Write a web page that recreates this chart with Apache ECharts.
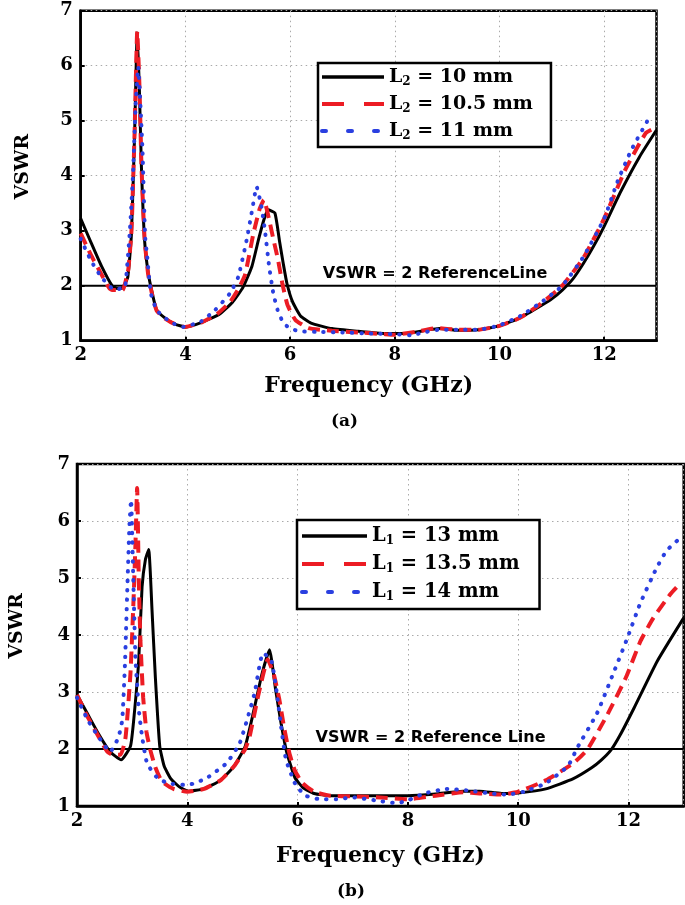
<!DOCTYPE html>
<html>
<head>
<meta charset="utf-8">
<script src="https://cdn.jsdelivr.net/npm/echarts@6/dist/echarts.min.js"></script>
<style>html,body{margin:0;padding:0;background:#fff;}#c{width:685px;height:905px;}</style>
</head>
<body>
<div id="c"></div>
<script>
// ---------- (a) L2 variation ----------
const freqA10 = [2, 2.2, 2.4, 2.6, 2.7, 2.8, 2.9, 2.97, 3.03, 3.08, 3.12, 3.16, 3.22, 3.29, 3.37, 3.45, 3.6, 3.8, 4.0, 4.3, 4.65, 4.9, 5.1, 5.27, 5.4, 5.5, 5.58, 5.71, 5.8, 5.87, 5.94, 6.05, 6.2, 6.4, 6.8, 7.3, 7.8, 8.2, 8.6, 8.85, 9.2, 9.6, 10.0, 10.4, 10.8, 11.0, 11.2, 11.4, 11.6, 11.8, 12.0, 12.3, 12.68, 13.0];
const vswrA10 = [3.22, 2.78, 2.35, 2.0, 1.95, 1.96, 2.16, 2.95, 4.77, 6.6, 5.6, 4.16, 2.83, 2.23, 1.85, 1.56, 1.42, 1.3, 1.25, 1.33, 1.48, 1.7, 1.97, 2.35, 2.85, 3.2, 3.38, 3.32, 2.8, 2.4, 2.04, 1.7, 1.45, 1.32, 1.22, 1.17, 1.13, 1.13, 1.19, 1.22, 1.19, 1.2, 1.27, 1.42, 1.64, 1.76, 1.92, 2.12, 2.4, 2.72, 3.08, 3.68, 4.35, 4.83];

const freqA105 = [2, 2.2, 2.4, 2.55, 2.6, 2.8, 2.85, 2.91, 2.97, 3.03, 3.08, 3.12, 3.16, 3.22, 3.29, 3.37, 3.45, 3.6, 3.8, 4.0, 4.3, 4.6, 4.85, 5.0, 5.14, 5.3, 5.42, 5.5, 5.6, 5.68, 5.77, 5.85, 5.95, 6.1, 6.35, 6.8, 7.3, 7.8, 8.0, 8.4, 8.8, 9.2, 9.6, 10.0, 10.4, 10.8, 11.2, 11.6, 12.0, 12.4, 12.8, 13.0];
const vswrA105 = [2.95, 2.55, 2.2, 1.95, 1.92, 1.92, 2.05, 2.3, 3.0, 4.8, 6.62, 5.7, 4.2, 2.85, 2.2, 1.82, 1.55, 1.41, 1.3, 1.25, 1.33, 1.48, 1.7, 1.92, 2.2, 2.95, 3.4, 3.56, 3.2, 2.85, 2.47, 2.05, 1.65, 1.38, 1.23, 1.18, 1.15, 1.12, 1.11, 1.16, 1.23, 1.2, 1.2, 1.27, 1.42, 1.68, 2.0, 2.5, 3.22, 4.1, 4.78, 4.88];

const freqA11 = [2, 2.2, 2.4, 2.6, 2.7, 2.78, 2.85, 2.94, 3.0, 3.05, 3.1, 3.13, 3.18, 3.23, 3.27, 3.34, 3.45, 3.6, 3.78, 3.95, 4.3, 4.57, 4.85, 5.01, 5.17, 5.28, 5.36, 5.45, 5.52, 5.6, 5.68, 5.77, 5.87, 6.0, 6.2, 6.5, 7.0, 7.5, 8.0, 8.3, 8.6, 8.85, 9.2, 9.6, 10.0, 10.4, 10.8, 11.2, 11.6, 12.0, 12.25, 12.52, 12.87];
const vswrA11 = [2.85, 2.45, 2.15, 1.95, 1.93, 1.96, 1.98, 3.01, 4.04, 5.3, 5.98, 5.5, 4.47, 2.9, 2.53, 1.86, 1.56, 1.42, 1.31, 1.25, 1.35, 1.56, 1.86, 2.16, 2.83, 3.4, 3.8, 3.45, 3.0, 2.35, 1.86, 1.53, 1.33, 1.22, 1.17, 1.16, 1.15, 1.13, 1.12, 1.1, 1.16, 1.2, 1.2, 1.2, 1.28, 1.45, 1.7, 2.0, 2.52, 3.22, 3.88, 4.47, 5.07];

// ---------- (b) L1 variation ----------
const freqB13 = [2, 2.2, 2.4, 2.6, 2.8, 2.97, 3.04, 3.12, 3.18, 3.24, 3.3, 3.36, 3.42, 3.5, 3.58, 3.7, 3.85, 4.02, 4.3, 4.6, 4.85, 5.05, 5.2, 5.35, 5.49, 5.6, 5.7, 5.8, 5.95, 6.1, 6.3, 6.6, 7.0, 7.5, 8.0, 8.5, 9.0, 9.3, 9.7, 10.0, 10.5, 11.0, 11.33, 11.5, 11.68, 11.85, 12.1, 12.52, 13.0];
const vswrB13 = [2.95, 2.6, 2.25, 1.95, 1.81, 2.05, 2.63, 3.57, 4.85, 5.32, 5.5, 4.44, 3.27, 2.05, 1.7, 1.48, 1.34, 1.26, 1.3, 1.45, 1.7, 2.05, 2.65, 3.3, 3.74, 3.05, 2.45, 1.95, 1.5, 1.32, 1.22, 1.18, 1.18, 1.18, 1.18, 1.21, 1.26, 1.26, 1.22, 1.23, 1.3, 1.48, 1.67, 1.8, 1.98, 2.25, 2.72, 3.54, 4.3];

const freqB135 = [2, 2.2, 2.4, 2.55, 2.65, 2.79, 2.88, 2.97, 3.03, 3.06, 3.09, 3.12, 3.15, 3.2, 3.26, 3.33, 3.42, 3.54, 3.75, 4.0, 4.3, 4.6, 4.85, 5.05, 5.13, 5.3, 5.46, 5.57, 5.67, 5.76, 5.85, 5.95, 6.09, 6.3, 6.6, 7.0, 7.5, 8.0, 8.5, 9.0, 9.3, 9.7, 10.0, 10.5, 11.0, 11.26, 11.62, 11.95, 12.22, 12.45, 12.76, 12.95];
const vswrB135 = [2.95, 2.55, 2.2, 1.95, 1.9, 1.9, 2.2, 3.34, 4.74, 5.6, 6.58, 5.0, 3.9, 2.9, 2.3, 1.98, 1.68, 1.43, 1.3, 1.25, 1.3, 1.45, 1.7, 2.0, 2.22, 3.0, 3.57, 3.3, 2.86, 2.35, 1.93, 1.62, 1.4, 1.25, 1.18, 1.17, 1.15, 1.12, 1.18, 1.24, 1.22, 1.2, 1.25, 1.45, 1.75, 2.0, 2.61, 3.25, 3.9, 4.3, 4.72, 4.92];

const freqB14 = [2, 2.2, 2.4, 2.6, 2.75, 2.82, 2.87, 2.91, 2.95, 2.98, 3.02, 3.06, 3.12, 3.18, 3.27, 3.45, 3.65, 3.96, 4.1, 4.35, 4.71, 4.95, 5.22, 5.37, 5.52, 5.62, 5.7, 5.79, 5.97, 6.15, 6.4, 6.7, 7.0, 7.4, 7.8, 8.0, 8.3, 8.7, 9.1, 9.5, 9.8, 10.1, 10.5, 10.9, 11.07, 11.43, 11.7, 11.96, 12.21, 12.5, 12.69, 12.97];
const vswrB14 = [2.9, 2.5, 2.2, 1.95, 2.2, 2.51, 3.5, 4.74, 5.9, 6.37, 5.0, 3.6, 2.7, 2.22, 1.75, 1.5, 1.4, 1.37, 1.39, 1.49, 1.75, 2.1, 2.98, 3.68, 3.57, 3.0, 2.4, 1.81, 1.36, 1.18, 1.12, 1.12, 1.15, 1.1, 1.05, 1.1, 1.22, 1.3, 1.27, 1.22, 1.2, 1.25, 1.4, 1.7, 2.02, 2.63, 3.27, 3.9, 4.55, 5.16, 5.48, 5.73];

// Reference line (VSWR = 2) across the band, and label anchor frequencies
const refFreq = [2, 13];
const refVswr = [2, 2];
const refLabelA = 'VSWR = 2 ReferenceLine';
const refLabelB = 'VSWR = 2 Reference Line';
const refLabelFreqA = 8.77;
const refLabelFreqB = 8.41;

const namesA = ['L2 = 10 mm', 'L2 = 10.5 mm', 'L2 = 11 mm'];
const namesB = ['L1 = 13 mm', 'L1 = 13.5 mm', 'L1 = 14 mm'];
const captions = ['(a)', '(b)'];

function pairs(xs, ys) { return xs.map((x, i) => [x, ys[i]]); }

const SERIF = 'DejaVu Serif';
const SANS = 'DejaVu Sans';
const BLACK = '#000000', RED = '#ec1c24', BLUE = '#2a3fe0';

const styles = [
  { color: BLACK, width: 3, type: 'solid', cap: 'butt' },
  { color: RED, width: 4, type: [12, 7], cap: 'butt' },
  { color: BLUE, width: 4, type: [0.5, 9], cap: 'round' }
];

function curve(name, xs, ys, k, idx) {
  const s = styles[k];
  return {
    name: name, type: 'line', xAxisIndex: idx, yAxisIndex: idx,
    data: pairs(xs, ys), symbol: 'none', smooth: 0.15, z: 3 + k,
    lineStyle: { color: s.color, width: s.width, type: s.type, cap: s.cap },
    itemStyle: { color: s.color }
  };
}

function refSeries(idx, label, at) {
  return {
    name: 'ref' + idx, type: 'line', xAxisIndex: idx, yAxisIndex: idx,
    data: pairs(refFreq, refVswr), symbol: 'none', z: 2, silent: true,
    lineStyle: { color: '#000', width: 2 },
    markPoint: {
      symbol: 'rect', symbolSize: [1, 1], silent: true,
      itemStyle: { color: 'rgba(0,0,0,0)' },
      label: { show: true, position: 'top', distance: 3, formatter: label,
        fontFamily: SANS, fontWeight: 'bold', fontSize: 16, color: '#000' },
      data: [{ coord: [at, refVswr[0]] }]
    }
  };
}

function xAx(idx, gap) {
  return {
    type: 'value', gridIndex: idx, min: 2, max: 13, interval: 2,
    name: 'Frequency (GHz)', nameLocation: 'middle', nameGap: gap,
    nameTextStyle: { fontFamily: SERIF, fontWeight: 'bold', fontSize: 22, color: '#000' },
    axisLine: { lineStyle: { color: '#000', width: 2.5 } },
    axisTick: { inside: true, length: 4, lineStyle: { color: '#000', width: 2 } },
    axisLabel: { fontFamily: SERIF, fontWeight: 'bold', fontSize: 18, color: '#000', margin: 6, showMaxLabel: false },
    splitLine: { show: true, lineStyle: { color: '#aaaaaa', width: 1, type: [1.5, 3.5] } }
  };
}
function yAx(idx, gap, margin) {
  return {
    type: 'value', gridIndex: idx, min: 1, max: 7, interval: 1,
    name: 'VSWR', nameLocation: 'middle', nameGap: gap, nameRotate: 90,
    nameTextStyle: { fontFamily: SERIF, fontWeight: 'bold', fontSize: 19, color: '#000', padding: [0, 0, 0, 18] },
    axisLine: { lineStyle: { color: '#000', width: 2.5 } },
    axisTick: { inside: true, length: 4, lineStyle: { color: '#000', width: 2 } },
    axisLabel: { fontFamily: SERIF, fontWeight: 'bold', fontSize: 18, color: '#000', margin: margin },
    splitLine: { show: true, lineStyle: { color: '#aaaaaa', width: 1, type: [1.5, 3.5] } }
  };
}

function legendFmt(name) {
  const m = name.match(/^L(\d)(.*)$/);
  return '{b|L}{s|' + m[1] + '}{b|' + m[2] + '}';
}
function legend(names, left, top, iw, gap, pad, fs) {
  return {
    orient: 'vertical', left: left, top: top, itemWidth: iw, itemHeight: 14, itemGap: gap,
    padding: pad, borderColor: '#000', borderWidth: 2.5, backgroundColor: '#fff',
    selectedMode: false, z: 10,
    itemStyle: { opacity: 0, color: 'rgba(0,0,0,0)', borderWidth: 0 },
    data: [
      { name: names[0], lineStyle: { width: 3.5 } },
      { name: names[1], lineStyle: { width: 4, type: [22, 20] } },
      { name: names[2], lineStyle: { width: 4, type: [4, 22] } }
    ],
    formatter: legendFmt,
    textStyle: {
      rich: {
        b: { fontFamily: SERIF, fontWeight: 'bold', fontSize: fs, lineHeight: 22, color: '#000' },
        s: { fontFamily: SERIF, fontWeight: 'bold', fontSize: Math.round(fs * 0.62), lineHeight: 12, padding: [10, 0, 0, 0], color: '#000' }
      }
    }
  };
}

const chart = echarts.init(document.getElementById('c'), null, { renderer: 'canvas' });
chart.setOption({
  backgroundColor: '#fff',
  animation: false,
  title: [
    { text: captions[0], left: 331, top: 413, padding: 0, textStyle: { fontFamily: SERIF, fontWeight: 'bold', fontSize: 17, color: '#000' } },
    { text: captions[1], left: 337, top: 883, padding: 0, textStyle: { fontFamily: SERIF, fontWeight: 'bold', fontSize: 17, color: '#000' } }
  ],
  grid: [
    { left: 80.7, top: 10.7, width: 575.8, height: 330, show: true, borderColor: '#000', borderWidth: 2.5, backgroundColor: 'transparent' },
    { left: 72.7, top: 464, width: 611, height: 342, show: true, borderColor: '#000', borderWidth: 2.5, backgroundColor: 'transparent' }
  ],
  xAxis: [xAx(0, 35), xAx(1, 39)],
  yAxis: [yAx(0, 48, 8), yAx(1, 50, 7)],
  legend: [
    legend(namesA, 318, 63, 62, 5, [3, 18, 5, 2], 19),
    legend(namesB, 297, 520, 65, 6, [5, 20, 6, 3], 19.5)
  ],
  series: [
    refSeries(0, refLabelA, refLabelFreqA),
    curve(namesA[0], freqA10, vswrA10, 0, 0),
    curve(namesA[1], freqA105, vswrA105, 1, 0),
    curve(namesA[2], freqA11, vswrA11, 2, 0),
    refSeries(1, refLabelB, refLabelFreqB),
    curve(namesB[0], freqB13, vswrB13, 0, 1),
    curve(namesB[1], freqB135, vswrB135, 1, 1),
    curve(namesB[2], freqB14, vswrB14, 2, 1)
  ]
});
</script>
</body>
</html>
